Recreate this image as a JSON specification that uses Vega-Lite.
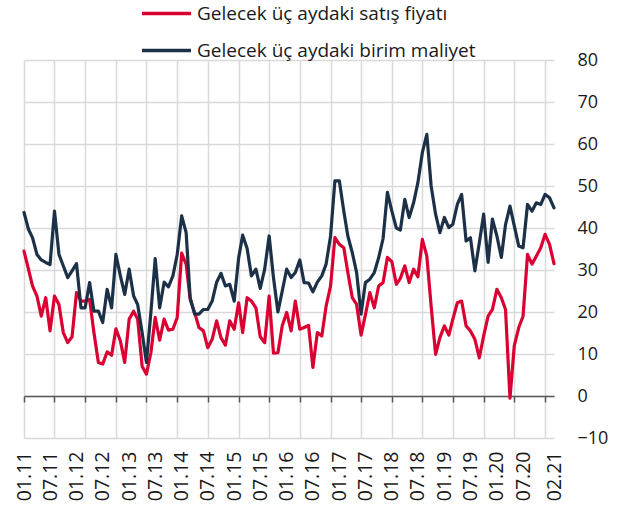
{
  "$schema": "https://vega.github.io/schema/vega-lite/v6.json",
  "width": 530,
  "height": 378,
  "autosize": {"type": "none"},
  "padding": {"left": 24, "top": 60, "right": 79, "bottom": 74},
  "background": "white",
  "config": {"view": {"stroke": null}, "font": "Open Sans"},
  "data": {"values": [
    {"date": "2011-01-01", "satis": 34.5, "maliyet": 43.7},
    {"date": "2011-02-01", "satis": 30.2, "maliyet": 39.7},
    {"date": "2011-03-01", "satis": 26.2, "maliyet": 37.7},
    {"date": "2011-04-01", "satis": 23.8, "maliyet": 33.7},
    {"date": "2011-05-01", "satis": 19.0, "maliyet": 32.4},
    {"date": "2011-06-01", "satis": 23.4, "maliyet": 31.8},
    {"date": "2011-07-01", "satis": 15.5, "maliyet": 31.3},
    {"date": "2011-08-01", "satis": 23.8, "maliyet": 44.0},
    {"date": "2011-09-01", "satis": 21.8, "maliyet": 33.7},
    {"date": "2011-10-01", "satis": 15.1, "maliyet": 31.0},
    {"date": "2011-11-01", "satis": 12.7, "maliyet": 28.2},
    {"date": "2011-12-01", "satis": 14.1, "maliyet": 29.8},
    {"date": "2012-01-01", "satis": 24.6, "maliyet": 31.5},
    {"date": "2012-02-01", "satis": 22.6, "maliyet": 21.0},
    {"date": "2012-03-01", "satis": 22.6, "maliyet": 21.0},
    {"date": "2012-04-01", "satis": 23.0, "maliyet": 27.0},
    {"date": "2012-05-01", "satis": 15.1, "maliyet": 20.2},
    {"date": "2012-06-01", "satis": 8.0, "maliyet": 20.2},
    {"date": "2012-07-01", "satis": 7.6, "maliyet": 17.5},
    {"date": "2012-08-01", "satis": 10.5, "maliyet": 25.4},
    {"date": "2012-09-01", "satis": 9.7, "maliyet": 21.0},
    {"date": "2012-10-01", "satis": 16.0, "maliyet": 33.7},
    {"date": "2012-11-01", "satis": 13.1, "maliyet": 28.6},
    {"date": "2012-12-01", "satis": 8.0, "maliyet": 24.2},
    {"date": "2013-01-01", "satis": 18.3, "maliyet": 30.2},
    {"date": "2013-02-01", "satis": 20.2, "maliyet": 23.8},
    {"date": "2013-03-01", "satis": 18.3, "maliyet": 21.8},
    {"date": "2013-04-01", "satis": 7.1, "maliyet": 15.1},
    {"date": "2013-05-01", "satis": 5.2, "maliyet": 8.0},
    {"date": "2013-06-01", "satis": 10.3, "maliyet": 19.9},
    {"date": "2013-07-01", "satis": 18.7, "maliyet": 32.7},
    {"date": "2013-08-01", "satis": 13.3, "maliyet": 21.0},
    {"date": "2013-09-01", "satis": 18.3, "maliyet": 27.1},
    {"date": "2013-10-01", "satis": 15.7, "maliyet": 26.0},
    {"date": "2013-11-01", "satis": 15.9, "maliyet": 28.6},
    {"date": "2013-12-01", "satis": 18.7, "maliyet": 33.7},
    {"date": "2014-01-01", "satis": 34.0, "maliyet": 42.9},
    {"date": "2014-02-01", "satis": 31.4, "maliyet": 38.9},
    {"date": "2014-03-01", "satis": 23.0, "maliyet": 23.4},
    {"date": "2014-04-01", "satis": 19.9, "maliyet": 19.5},
    {"date": "2014-05-01", "satis": 16.3, "maliyet": 19.5},
    {"date": "2014-06-01", "satis": 15.5, "maliyet": 20.6},
    {"date": "2014-07-01", "satis": 11.5, "maliyet": 20.6},
    {"date": "2014-08-01", "satis": 13.5, "maliyet": 22.6},
    {"date": "2014-09-01", "satis": 17.9, "maliyet": 27.1},
    {"date": "2014-10-01", "satis": 13.9, "maliyet": 29.2},
    {"date": "2014-11-01", "satis": 12.1, "maliyet": 26.2},
    {"date": "2014-12-01", "satis": 17.9, "maliyet": 26.6},
    {"date": "2015-01-01", "satis": 15.9, "maliyet": 22.6},
    {"date": "2015-02-01", "satis": 22.2, "maliyet": 32.9},
    {"date": "2015-03-01", "satis": 15.1, "maliyet": 38.3},
    {"date": "2015-04-01", "satis": 23.4, "maliyet": 35.1},
    {"date": "2015-05-01", "satis": 22.6, "maliyet": 28.6},
    {"date": "2015-06-01", "satis": 21.0, "maliyet": 30.2},
    {"date": "2015-07-01", "satis": 14.1, "maliyet": 25.6},
    {"date": "2015-08-01", "satis": 12.7, "maliyet": 30.2},
    {"date": "2015-09-01", "satis": 23.8, "maliyet": 38.1},
    {"date": "2015-10-01", "satis": 10.2, "maliyet": 28.2},
    {"date": "2015-11-01", "satis": 10.3, "maliyet": 20.0},
    {"date": "2015-12-01", "satis": 16.7, "maliyet": 25.0},
    {"date": "2016-01-01", "satis": 19.9, "maliyet": 30.2},
    {"date": "2016-02-01", "satis": 15.5, "maliyet": 28.2},
    {"date": "2016-03-01", "satis": 22.6, "maliyet": 29.4},
    {"date": "2016-04-01", "satis": 15.9, "maliyet": 32.4},
    {"date": "2016-05-01", "satis": 16.3, "maliyet": 27.0},
    {"date": "2016-06-01", "satis": 16.8, "maliyet": 26.9},
    {"date": "2016-07-01", "satis": 6.8, "maliyet": 24.8},
    {"date": "2016-08-01", "satis": 15.1, "maliyet": 27.1},
    {"date": "2016-09-01", "satis": 14.3, "maliyet": 28.6},
    {"date": "2016-10-01", "satis": 21.4, "maliyet": 31.4},
    {"date": "2016-11-01", "satis": 26.2, "maliyet": 38.1},
    {"date": "2016-12-01", "satis": 37.7, "maliyet": 51.2},
    {"date": "2017-01-01", "satis": 36.1, "maliyet": 51.2},
    {"date": "2017-02-01", "satis": 35.3, "maliyet": 44.0},
    {"date": "2017-03-01", "satis": 29.4, "maliyet": 38.1},
    {"date": "2017-04-01", "satis": 23.4, "maliyet": 34.1},
    {"date": "2017-05-01", "satis": 21.8, "maliyet": 29.4},
    {"date": "2017-06-01", "satis": 14.5, "maliyet": 19.5},
    {"date": "2017-07-01", "satis": 19.3, "maliyet": 27.0},
    {"date": "2017-08-01", "satis": 24.6, "maliyet": 27.8},
    {"date": "2017-09-01", "satis": 21.0, "maliyet": 29.4},
    {"date": "2017-10-01", "satis": 26.2, "maliyet": 32.9},
    {"date": "2017-11-01", "satis": 27.0, "maliyet": 37.5},
    {"date": "2017-12-01", "satis": 33.0, "maliyet": 48.5},
    {"date": "2018-01-01", "satis": 32.0, "maliyet": 44.0},
    {"date": "2018-02-01", "satis": 26.6, "maliyet": 40.0},
    {"date": "2018-03-01", "satis": 28.0, "maliyet": 39.5},
    {"date": "2018-04-01", "satis": 31.0, "maliyet": 46.8},
    {"date": "2018-05-01", "satis": 27.0, "maliyet": 42.5},
    {"date": "2018-06-01", "satis": 30.2, "maliyet": 46.0},
    {"date": "2018-07-01", "satis": 28.4, "maliyet": 50.8},
    {"date": "2018-08-01", "satis": 37.3, "maliyet": 58.0},
    {"date": "2018-09-01", "satis": 33.3, "maliyet": 62.3},
    {"date": "2018-10-01", "satis": 21.4, "maliyet": 50.0},
    {"date": "2018-11-01", "satis": 9.9, "maliyet": 43.3},
    {"date": "2018-12-01", "satis": 13.9, "maliyet": 38.9},
    {"date": "2019-01-01", "satis": 16.7, "maliyet": 42.5},
    {"date": "2019-02-01", "satis": 14.5, "maliyet": 40.1},
    {"date": "2019-03-01", "satis": 18.3, "maliyet": 40.9},
    {"date": "2019-04-01", "satis": 22.2, "maliyet": 45.6},
    {"date": "2019-05-01", "satis": 22.6, "maliyet": 48.0},
    {"date": "2019-06-01", "satis": 16.7, "maliyet": 36.9},
    {"date": "2019-07-01", "satis": 15.5, "maliyet": 37.7},
    {"date": "2019-08-01", "satis": 13.5, "maliyet": 29.8},
    {"date": "2019-09-01", "satis": 9.1, "maliyet": 36.5},
    {"date": "2019-10-01", "satis": 14.3, "maliyet": 43.3},
    {"date": "2019-11-01", "satis": 19.0, "maliyet": 31.8},
    {"date": "2019-12-01", "satis": 20.6, "maliyet": 42.1},
    {"date": "2020-01-01", "satis": 25.4, "maliyet": 38.1},
    {"date": "2020-02-01", "satis": 23.4, "maliyet": 33.0},
    {"date": "2020-03-01", "satis": 20.6, "maliyet": 40.8},
    {"date": "2020-04-01", "satis": -0.5, "maliyet": 45.2},
    {"date": "2020-05-01", "satis": 12.0, "maliyet": 40.5},
    {"date": "2020-06-01", "satis": 16.3, "maliyet": 35.7},
    {"date": "2020-07-01", "satis": 19.0, "maliyet": 35.3},
    {"date": "2020-08-01", "satis": 33.7, "maliyet": 45.6},
    {"date": "2020-09-01", "satis": 31.4, "maliyet": 44.0},
    {"date": "2020-10-01", "satis": 33.3, "maliyet": 46.0},
    {"date": "2020-11-01", "satis": 35.3, "maliyet": 45.6},
    {"date": "2020-12-01", "satis": 38.5, "maliyet": 48.0},
    {"date": "2021-01-01", "satis": 36.1, "maliyet": 47.2},
    {"date": "2021-02-01", "satis": 31.5, "maliyet": 44.8}
  ]},
  "transform": [{"fold": ["satis", "maliyet"], "as": ["seri", "deger"]}],
  "layer": [
    {
      "mark": {"type": "line", "strokeWidth": 3.2, "strokeJoin": "round", "strokeCap": "round"},
      "encoding": {
        "x": {
          "field": "date", "type": "temporal",
          "scale": {"type": "utc", "nice": false, "domain": [{"year": 2011, "month": 1, "date": 1, "utc": true}, {"year": 2021, "month": 2, "date": 1, "utc": true}]},
          "axis": {
            "orient": "bottom",
            "values": [
              {"year": 2011, "month": 1, "date": 1, "utc": true}, {"year": 2011, "month": 7, "date": 1, "utc": true},
              {"year": 2012, "month": 1, "date": 1, "utc": true}, {"year": 2012, "month": 7, "date": 1, "utc": true},
              {"year": 2013, "month": 1, "date": 1, "utc": true}, {"year": 2013, "month": 7, "date": 1, "utc": true},
              {"year": 2014, "month": 1, "date": 1, "utc": true}, {"year": 2014, "month": 7, "date": 1, "utc": true},
              {"year": 2015, "month": 1, "date": 1, "utc": true}, {"year": 2015, "month": 7, "date": 1, "utc": true},
              {"year": 2016, "month": 1, "date": 1, "utc": true}, {"year": 2016, "month": 7, "date": 1, "utc": true},
              {"year": 2017, "month": 1, "date": 1, "utc": true}, {"year": 2017, "month": 7, "date": 1, "utc": true},
              {"year": 2018, "month": 1, "date": 1, "utc": true}, {"year": 2018, "month": 7, "date": 1, "utc": true},
              {"year": 2019, "month": 1, "date": 1, "utc": true}, {"year": 2019, "month": 7, "date": 1, "utc": true},
              {"year": 2020, "month": 1, "date": 1, "utc": true}, {"year": 2020, "month": 7, "date": 1, "utc": true},
              {"year": 2021, "month": 2, "date": 1, "utc": true}
            ],
            "format": "%m.%y",
            "labelAngle": 270,
            "grid": false, "ticks": false, "domain": false,
            "labelPadding": 13, "labelFont": "Open Sans", "labelFontSize": 19.5, "labelColor": "#1a1a1a",
            "labelOverlap": false, "labelFlush": false, "title": null, "zindex": 0
          }
        },
        "y": {
          "field": "deger", "type": "quantitative",
          "scale": {"domain": [-10, 80], "nice": false, "zero": false},
          "axis": {
            "orient": "right", "values": [-10, 0, 10, 20, 30, 40, 50, 60, 70, 80],
            "grid": true, "gridColor": "#d9d9d9", "gridWidth": 1.5,
            "domain": false, "ticks": false, "labelPadding": 23, "labelAlign": "left",
            "labelFont": "Open Sans", "labelFontSize": 18, "labelColor": "#1a1a1a", "title": null, "zindex": 0
          }
        },
        "color": {
          "field": "seri", "type": "nominal",
          "scale": {"domain": ["satis", "maliyet"], "range": ["#DB0032", "#1C3048"]},
          "legend": {
            "orient": "none", "legendX": 116, "legendY": -73, "direction": "vertical",
            "title": null, "symbolType": "stroke", "symbolSize": 2400, "symbolStrokeWidth": 3.5,
            "labelFont": "Open Sans", "labelFontSize": 19, "labelColor": "#1a1a1a", "labelLimit": 400,
            "labelOffset": 4, "rowPadding": -2, "padding": 0,
            "labelExpr": "datum.value === 'satis' ? 'Gelecek üç aydaki satış fiyatı' : 'Gelecek üç aydaki birim maliyet'"
          }
        }
      }
    },
    {
      "mark": {"type": "line", "strokeOpacity": 0},
      "encoding": {
        "detail": {"field": "seri"},
        "x": {
          "field": "date", "type": "temporal",
          "scale": {"type": "utc", "nice": false, "domain": [{"year": 2011, "month": 1, "date": 1, "utc": true}, {"year": 2021, "month": 2, "date": 1, "utc": true}]},
          "axis": {
            "orient": "bottom",
            "values": [
              {"year": 2011, "month": 1, "date": 1, "utc": true}, {"year": 2011, "month": 8, "date": 1, "utc": true},
              {"year": 2012, "month": 3, "date": 1, "utc": true}, {"year": 2012, "month": 10, "date": 1, "utc": true},
              {"year": 2013, "month": 5, "date": 1, "utc": true}, {"year": 2013, "month": 12, "date": 1, "utc": true},
              {"year": 2014, "month": 7, "date": 1, "utc": true}, {"year": 2015, "month": 2, "date": 1, "utc": true},
              {"year": 2015, "month": 9, "date": 1, "utc": true}, {"year": 2016, "month": 4, "date": 1, "utc": true},
              {"year": 2016, "month": 11, "date": 1, "utc": true}, {"year": 2017, "month": 6, "date": 1, "utc": true},
              {"year": 2018, "month": 1, "date": 1, "utc": true}, {"year": 2018, "month": 8, "date": 1, "utc": true},
              {"year": 2019, "month": 3, "date": 1, "utc": true}, {"year": 2019, "month": 10, "date": 1, "utc": true},
              {"year": 2020, "month": 5, "date": 1, "utc": true}, {"year": 2020, "month": 12, "date": 1, "utc": true}
            ],
            "grid": true, "gridColor": "#d9d9d9", "gridWidth": 1.5,
            "ticks": true, "tickSize": 6, "tickColor": "#595959", "tickWidth": 1.5,
            "domain": true, "domainColor": "#595959", "domainWidth": 1.5,
            "labels": false, "offset": -42, "title": null, "zindex": 0
          }
        },
        "y": {"field": "deger", "type": "quantitative", "scale": {"domain": [-10, 80], "nice": false, "zero": false}, "axis": null}
      }
    }
  ],
  "resolve": {"axis": {"x": "independent", "y": "independent"}}
}
